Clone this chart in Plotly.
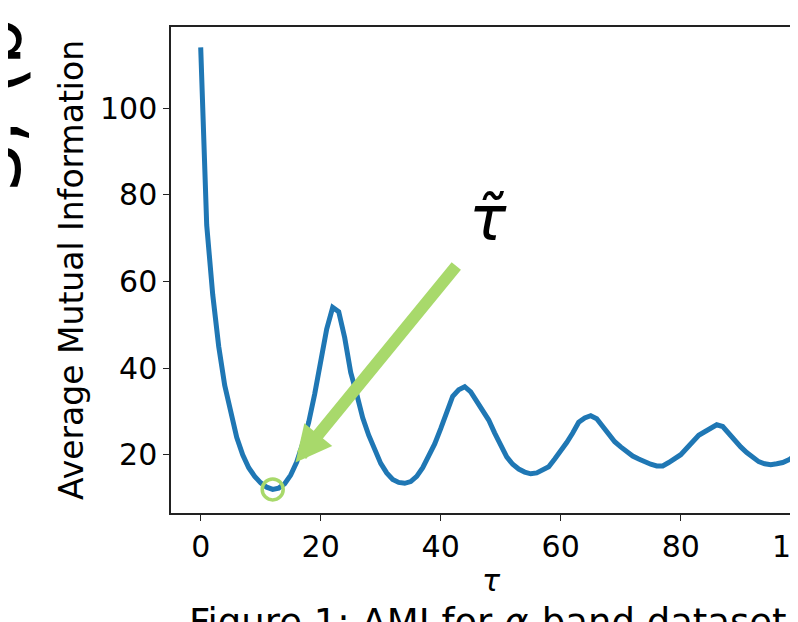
import plotly.graph_objects as go

# ---- data ----
tau = list(range(100))
ami = [114, 73, 57, 45, 36, 29.5, 24, 20, 17, 15,
       13.5, 12.5, 12, 12.3, 13.3, 15.3, 18.3, 22.5, 27.5, 34,
       41, 49, 54, 53, 47, 39, 34, 28.5, 24.5, 21,
       18, 15.8, 14.3, 13.6, 13.4, 13.8, 15, 17, 19.5, 22.5,
       26, 30, 33.5, 35, 35.7, 34.5, 32.5, 30.5, 28, 25,
       22, 19.5, 17.8, 16.7, 16, 15.6, 15.8, 16.5, 17.2, 19,
       20.8, 22.8, 25, 27.5, 28.5, 29, 28.3, 26.5, 24.5, 23,
       21.8, 20.7, 19.7, 19, 18.3, 17.8, 17.4, 17.4, 18.2, 19,
       20, 21.5, 23, 24.5, 25.3, 26.2, 26.9, 26.5, 24.8, 23.2,
       21.8, 20.5, 19.5, 18.4, 17.9, 17.7, 17.9, 18.2, 18.8, 19.8]
x_ticks = [0, 20, 40, 60, 80, 100]
y_ticks = [20, 40, 60, 80, 100]
min_idx = 12                       # first minimum (tau tilde)
arrow_tip = (15.8, 18.2)
arrow_tail = (42.8, 63.9)
label_pos = (47.9, 74.5)

BLUE = "#1f77b4"
GREEN = "#a8d96b"
FONT = "DejaVu Sans"

fig = go.Figure()
fig.add_trace(go.Scatter(x=tau, y=ami, mode="lines",
                         line=dict(color=BLUE, width=5), showlegend=False))
fig.add_trace(go.Scatter(x=[tau[min_idx]], y=[ami[min_idx]], mode="markers",
                         marker=dict(symbol="circle-open", size=21, color=GREEN,
                                     line=dict(width=3.5, color=GREEN)),
                         showlegend=False))

axis_common = dict(showgrid=False, zeroline=False, showline=True,
                   linecolor="#222", linewidth=1.5, ticks="outside",
                   ticklen=6, tickwidth=1.3, tickcolor="#222", automargin=False,
                   tickfont=dict(family=FONT, size=30, color="black"))

fig.update_layout(
    width=798, height=622,
    margin=dict(l=163, r=0, t=19, b=117),
    paper_bgcolor="white", plot_bgcolor="white",
    xaxis=dict(range=[-4.95, 100.88], tickvals=x_ticks, mirror=True,
               ticklabeloverflow="allow", **axis_common),
    yaxis=dict(range=[6.55, 118.7], tickvals=y_ticks, **axis_common),
    showlegend=False,
)

annotations = [
    # arrow pointing at the minimum
    dict(x=arrow_tip[0], y=arrow_tip[1], xref="x", yref="y",
         ax=arrow_tail[0], ay=arrow_tail[1], axref="x", ayref="y",
         text="", showarrow=True, arrowhead=2, arrowsize=0.6,
         arrowwidth=12, arrowcolor=GREEN, standoff=0),
    # tau tilde label
    dict(x=label_pos[0], y=label_pos[1], xref="x", yref="y",
         text="<i>τ̃</i>", showarrow=False,
         font=dict(family=FONT, size=62, color="black")),
    # y-axis title
    dict(x=0, y=0.5, xref="paper", yref="paper", xshift=-100,
         xanchor="center", yanchor="middle",
         text="Average Mutual Information", textangle=-90, showarrow=False,
         font=dict(family=FONT, size=33, color="black")),
    # x-axis title
    dict(x=0, y=0, xref="paper", yref="paper", xshift=320, yshift=-67,
         xanchor="center", yanchor="middle",
         text="<i>τ</i>", showarrow=False,
         font=dict(family=FONT, size=30, color="black")),
    # caption (cut off)
    dict(x=0, y=0, xref="paper", yref="paper", xshift=16, yshift=-86,
         xanchor="left", yanchor="top",
         text="Figure 1: AMI for <i>α</i>-band dataset", showarrow=False,
         font=dict(family=FONT, size=37, color="black")),
    # neighbouring text, cut off at left
    dict(x=0, y=0.5, xref="paper", yref="paper", xshift=-178, yshift=165,
         xanchor="center", yanchor="middle",
         text="S, (b", textangle=-90, showarrow=False,
         font=dict(family=FONT, size=76, color="black")),
]
fig.update_layout(annotations=annotations)

fig.write_html("out.html")
